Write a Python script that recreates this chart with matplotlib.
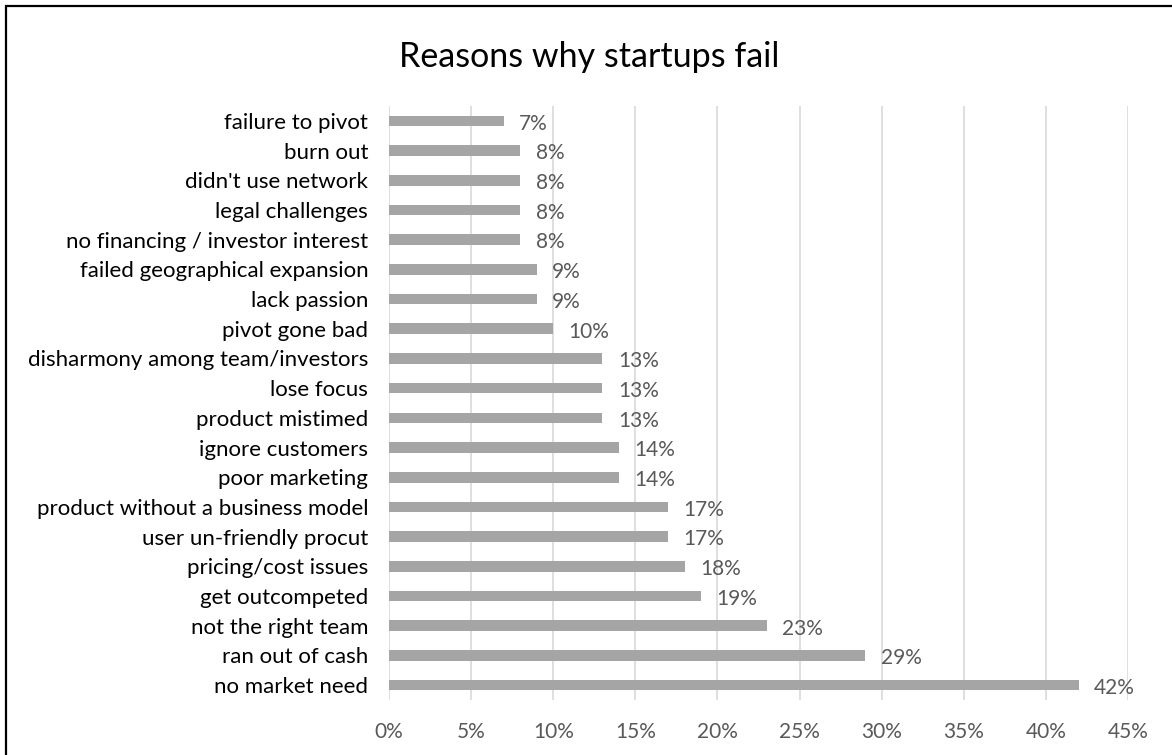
import matplotlib.pyplot as plt
from matplotlib.patches import Rectangle
from matplotlib.ticker import PercentFormatter

plt.rcParams['font.family'] = ['Lato', 'DejaVu Sans']

# dati, dall'alto verso il basso
reasons = [
    "failure to pivot", "burn out", "didn't use network", "legal challenges",
    "no financing / investor interest", "failed geographical expansion",
    "lack passion", "pivot gone bad", "disharmony among team/investors",
    "lose focus", "product mistimed", "ignore customers", "poor marketing",
    "product without a business model", "user un-friendly procut",
    "pricing/cost issues", "get outcompeted", "not the right team",
    "ran out of cash", "no market need",
]
percent = [7, 8, 8, 8, 8, 9, 9, 10, 13, 13, 13, 14, 14, 17, 17, 18, 19, 23, 29, 42]

fig = plt.figure(figsize=(11.72, 7.55), dpi=100)
ax = fig.add_axes([389 / 1172, 1 - 700 / 755, (1128 - 389) / 1172, (700 - 106) / 755])

y = list(range(len(reasons)))
ax.barh(y, percent, height=0.36, color='#A5A5A5', zorder=3)
ax.set_ylim(len(reasons) - 0.5, -0.5)
ax.set_yticks(y)
ax.set_yticklabels(reasons, fontsize=16, color='#000000')

ax.set_xlim(0, 45)
ax.set_xticks(range(0, 46, 5))
ax.xaxis.set_major_formatter(PercentFormatter(decimals=0))
ax.tick_params(axis='x', labelsize=15, labelcolor='#595959', length=0, pad=16)
ax.tick_params(axis='y', length=0, pad=15)
ax.grid(axis='x', color='#D9D9D9', linewidth=1.2, zorder=0)

for s in ax.spines.values():
    s.set_visible(False)

# etichette dei valori
for i, v in enumerate(percent):
    ax.annotate(f"{v}%", (v, i), textcoords='offset points', xytext=(11, -2),
                ha='left', va='center', fontsize=15, color='#595959')

fig.text(0.503, 0.925, "Reasons why startups fail", ha='center', va='center',
         fontsize=24.5, color='#000000')

# cornice del grafico
fig.patches.append(Rectangle((6 / 1172, -0.02), 1.05, 1 - 6 / 755 + 0.02,
                             transform=fig.transFigure, fill=False,
                             edgecolor='black', linewidth=1.6))

fig.savefig('out.png', dpi=100)
